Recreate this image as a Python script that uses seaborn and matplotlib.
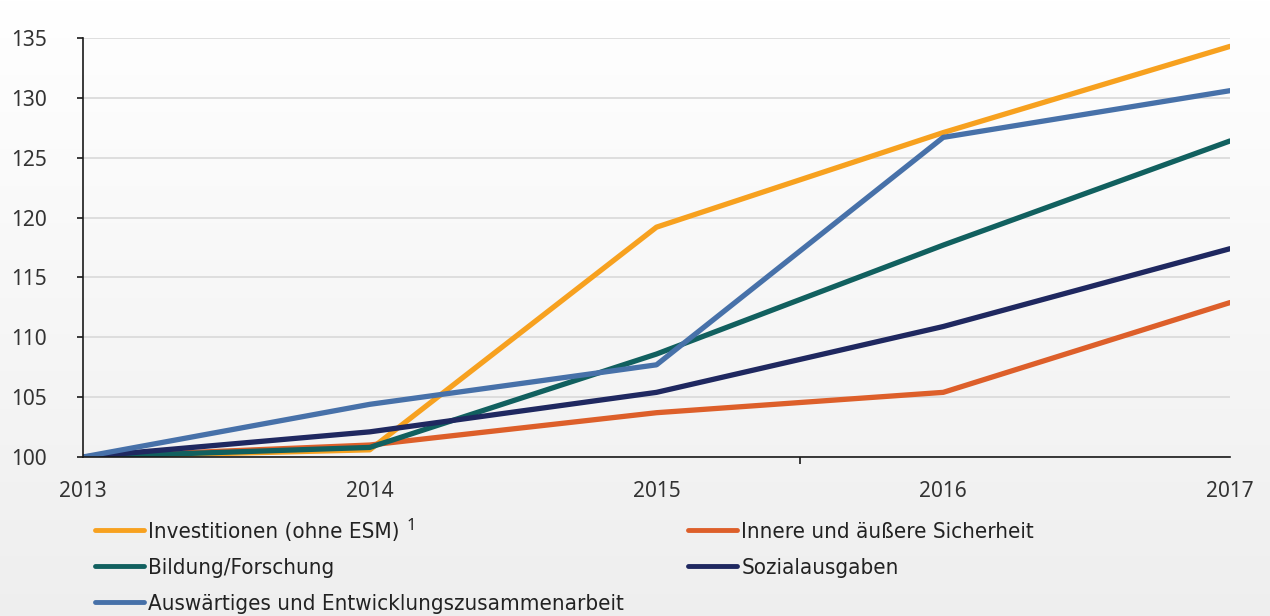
import numpy as np
import pandas as pd
import seaborn as sns
import matplotlib.pyplot as plt

# Werte (Index 2013 = 100)
jahre = [2013, 2014, 2015, 2016, 2017]
investitionen = [100, 100.6, 119.2, 127.1, 134.3]
sicherheit = [100, 101.0, 103.7, 105.4, 112.9]
bildung = [100, 100.8, 108.6, 117.7, 126.4]
sozial = [100, 102.1, 105.4, 110.9, 117.4]
auswaertiges = [100, 104.4, 107.7, 126.7, 130.6]

namen = ['Investitionen (ohne ESM)', 'Innere und äußere Sicherheit',
         'Bildung/Forschung', 'Sozialausgaben',
         'Auswärtiges und Entwicklungszusammenarbeit']
farben = ['#f7a11f', '#dd5f2a', '#11605f', '#1f2860', '#4771a9']
y_ticks = [100, 105, 110, 115, 120, 125, 130, 135]

df = pd.DataFrame({'Jahr': jahre * 5,
                   'Wert': investitionen + sicherheit + bildung + sozial + auswaertiges,
                   'Bereich': sum([[n] * len(jahre) for n in namen], [])})

sns.set_style('white')
plt.rcParams['font.family'] = ['Noto Sans', 'Open Sans', 'DejaVu Sans']

fig = plt.figure(figsize=(12.7, 6.16), dpi=100)

# Hintergrundverlauf weiss -> hellgrau
bg = fig.add_axes([0, 0, 1, 1], zorder=-10)
verlauf = np.linspace(1.0, 0.935, 256).reshape(-1, 1)
bg.imshow(np.dstack([verlauf] * 3), aspect='auto', extent=[0, 1, 0, 1])
bg.axis('off')

ax = fig.add_axes([83 / 1270, 1 - 457 / 616, (1230 - 83) / 1270, (457 - 38) / 616])
ax.set_facecolor('none')

for n, c in zip(namen, farben):
    sns.lineplot(data=df[df['Bereich'] == n], x='Jahr', y='Wert', color=c,
                 linewidth=3.8, label=n, ax=ax, legend=False)

ax.set_xlim(2013, 2017)
ax.set_ylim(100, 135)
ax.set_yticks(y_ticks)
ax.set_xticks(jahre)
ax.set_xticks([2013, 2015.5], minor=True)
ax.grid(axis='y', color='#d9d9d9', linewidth=1.2)
ax.set_axisbelow(True)
for s in ['top', 'right']:
    ax.spines[s].set_visible(False)
for s in ['left', 'bottom']:
    ax.spines[s].set_color('#1a1a1a')
    ax.spines[s].set_linewidth(1.2)
ax.tick_params(axis='y', left=True, length=4, width=1.2, color='#1a1a1a',
               labelsize=15, labelcolor='#333333', pad=22)
ax.tick_params(axis='x', which='major', length=0, labelsize=15,
               labelcolor='#333333', pad=17)
ax.tick_params(axis='x', which='minor', bottom=True, length=5, width=1.2,
               color='#1a1a1a')
ax.set_xlabel('')
ax.set_ylabel('')

handles, labels = ax.get_legend_handles_labels()
legend_font = {'family': 'DejaVu Sans', 'stretch': 'condensed', 'size': 16}
opts = dict(loc='upper left', frameon=False, borderpad=0, borderaxespad=0,
            handlelength=2.2, handletextpad=0.2, labelspacing=0.72,
            prop=legend_font, labelcolor='#222222')
leg1 = fig.legend([handles[i] for i in [0, 2, 4]], [labels[i] for i in [0, 2, 4]],
                  bbox_to_anchor=(95 / 1270, 1 - 522 / 616), **opts)
leg2 = fig.legend([handles[i] for i in [1, 3]], [labels[i] for i in [1, 3]],
                  bbox_to_anchor=(688 / 1270, 1 - 522 / 616), **opts)
for leg in (leg1, leg2):
    for line in leg.get_lines():
        line.set_linewidth(3.5)

# Fussnotenzeichen hinter dem ersten Legendeneintrag
fig.canvas.draw()
bb = leg1.get_texts()[0].get_window_extent().transformed(fig.transFigure.inverted())
fig.text(bb.x1 + 7 / 1270, bb.y1 + 4 / 616, '1', fontsize=12, color='#222222',
         ha='left', va='top')

fig.savefig('out.png', dpi=100)
